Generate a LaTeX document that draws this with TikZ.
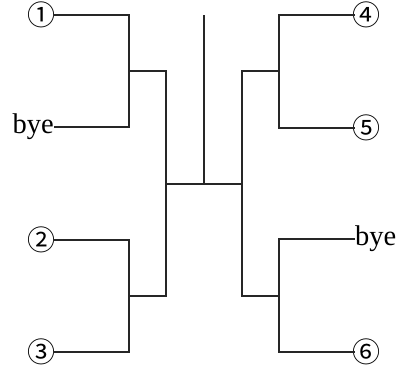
\documentclass[tikz,border=0pt]{standalone}
\usepackage{fontspec}
\setmainfont{Liberation Serif}
\newfontfamily\circfont{Noto Sans CJK JP}
\usepackage{tikz}
\usetikzlibrary{positioning,calc}

\begin{document}
\begin{tikzpicture}[
  x=1pt,y=-1pt,
  wire/.style={line width=1.4pt,black!85},
  num/.style={font=\circfont\fontsize{28}{28}\selectfont,inner ysep=0pt,inner xsep=-2.4pt},
  bye/.style={font=\fontsize{28.5}{28.5}\selectfont,inner sep=0pt},
]
\useasboundingbox (0,0) rectangle (403,367);
% entrants, left half
\node[num,anchor=east] (p1) at (53,15) {①};
\node[bye,anchor=east] (b1) at (54,127) {bye};
\node[num,anchor=east] (p2) at (53,240) {②};
\node[num,anchor=east] (p3) at (53,352) {③};
% entrants, right half
\node[num,anchor=west] (p4) at (355,15) {④};
\node[num,anchor=west] (p5) at (355,128) {⑤};
\node[bye,anchor=west] (b2) at (355,239) {bye};
\node[num,anchor=west] (p6) at (355,352) {⑥};
% junctions
\coordinate (q1) at (129,71);
\coordinate (q2) at (129,296);
\coordinate (q3) at (279,71);
\coordinate (q4) at (279,296);
\coordinate (s1) at (166,184);
\coordinate (s2) at (242,184);
\coordinate (fin) at (204,184);
\coordinate (top) at (204,15);
% first round
\draw[wire] (p1.east) -| (q1) |- (b1.east);
\draw[wire] (p2.east) -| (q2) |- (p3.east);
\draw[wire] (p4.west) -| (q3) |- (p5.west);
\draw[wire] (b2.west) -| (q4) |- (p6.west);
% semifinals and final
\draw[wire] (q1) -| (s1) |- (q2);
\draw[wire] (q3) -| (s2) |- (q4);
\draw[wire] (s1) -- (s2);
\draw[wire] (fin) -- (top);
\end{tikzpicture}
\end{document}
